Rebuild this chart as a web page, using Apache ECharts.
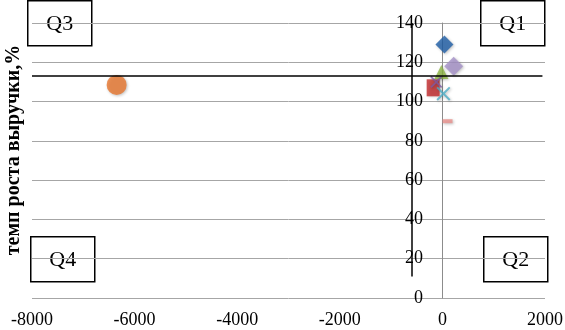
<!DOCTYPE html>
<html>
<head>
<meta charset="utf-8">
<script src="https://cdn.jsdelivr.net/npm/echarts@6/dist/echarts.min.js"></script>
<style>
  html, body { margin: 0; padding: 0; background: #fff; }
  #chart { width: 565px; height: 330px; }
</style>
</head>
<body>
<div id="chart"></div>
<script>
// точки (x — прирост, y — темп роста выручки, %)
const pointNames = ['Ряд1', 'Ряд2', 'Ряд3', 'Ряд4', 'Ряд5', 'Ряд6', 'Ряд7', 'Ряд8']
const xValues = [40, -180, -20, -120, 20, -6350, 100, 220]
const yValues = [129, 107, 115, 110, 104, 108.5, 90, 118]

// разделители квадрантов
const thresholdY = 113
const thresholdX = -590

const quadrants = ['Q1', 'Q2', 'Q3', 'Q4']

const X_SHAPE = 'path://M0,1L1,0L5,4L9,0L10,1L6,5L10,9L9,10L5,6L1,10L0,9L4,5Z'

const markerStyles = [
  { symbol: 'diamond', size: 18, color: '#1f5fa8' },
  { symbol: 'rect', size: [13, 17], color: '#c0282a' },
  { symbol: 'triangle', size: 14, color: '#8db543' },
  { symbol: X_SHAPE, size: 12, color: '#7a5aa6' },
  { symbol: X_SHAPE, size: 14, color: '#4bacc6' },
  { symbol: 'circle', size: 20, color: '#e8772e' },
  { symbol: 'rect', size: [10, 4], color: '#e8908c' },
  { symbol: 'diamond', size: 19, color: '#a591c8' }
]

const font = 'Liberation Serif, Times New Roman, serif'

const chart = echarts.init(document.getElementById('chart'), null, { renderer: 'canvas' })

const series = pointNames.map((name, i) => ({
  name: name,
  type: 'scatter',
  symbol: markerStyles[i].symbol,
  symbolSize: markerStyles[i].size,
  itemStyle: {
    color: markerStyles[i].color,
    shadowBlur: 3,
    shadowColor: 'rgba(0,0,0,0.3)',
    shadowOffsetX: 1,
    shadowOffsetY: 1
  },
  z: 3,
  data: [[xValues[i], yValues[i]]]
}))

series.push({
  type: 'scatter',
  data: [],
  silent: true,
  markLine: {
    silent: true,
    symbol: 'none',
    label: { show: false },
    lineStyle: { color: '#000', width: 1.5, type: 'solid' },
    data: [
      [{ coord: [-8000, thresholdY] }, { coord: [1950, thresholdY] }],
      [{ coord: [thresholdX, 11] }, { coord: [thresholdX, 140] }]
    ]
  }
})

const boxStyle = { fill: '#fff', stroke: '#000', lineWidth: 1.5 }
const boxes = [
  { text: quadrants[0], x: 480, y: 0 },
  { text: quadrants[1], x: 483, y: 236 },
  { text: quadrants[2], x: 27, y: 0 },
  { text: quadrants[3], x: 30, y: 236 }
]

chart.setOption({
  animation: false,
  backgroundColor: '#fff',
  grid: { left: 32, right: 20, top: 23, bottom: 32, outerBoundsMode: 'none', containLabel: false },
  xAxis: {
    type: 'value',
    min: -8000,
    max: 2000,
    interval: 2000,
    axisLine: { show: false },
    axisTick: { show: false },
    splitLine: { show: false },
    axisLabel: {
      color: '#000',
      fontFamily: font,
      fontSize: 18,
      margin: 13,
      formatter: v => String(v)
    }
  },
  yAxis: {
    type: 'value',
    min: 0,
    max: 140,
    interval: 20,
    axisLine: { show: true, onZero: true, lineStyle: { color: '#8c8c8c', width: 1 } },
    axisTick: { show: false },
    splitLine: { show: true, lineStyle: { color: '#a6a6a6', width: 1 } },
    // подписи стоят у вертикальной оси (x = 0), а не у края области
    axisLabel: { color: '#000', fontFamily: font, fontSize: 18, margin: -391, align: 'right' }
  },
  graphic: boxes.map(b => ({
    type: 'group',
    left: b.x,
    top: b.y,
    z: 10,
    children: [
      { type: 'rect', shape: { x: 0, y: 0, width: 64, height: 45 }, style: boxStyle },
      {
        type: 'text',
        x: 32,
        y: 23,
        style: { text: b.text, fontFamily: font, fontSize: 22, fill: '#000', textAlign: 'center', textVerticalAlign: 'middle' }
      }
    ]
  })).concat([{
    type: 'text',
    x: 14,
    y: 150,
    rotation: Math.PI / 2,
    z: 10,
    style: {
      text: 'темп роста выручки,%',
      fontFamily: font,
      fontWeight: 'bold',
      fontSize: 20,
      fill: '#000',
      textAlign: 'center',
      textVerticalAlign: 'middle'
    }
  }]),
  series: series
})
</script>
</body>
</html>
